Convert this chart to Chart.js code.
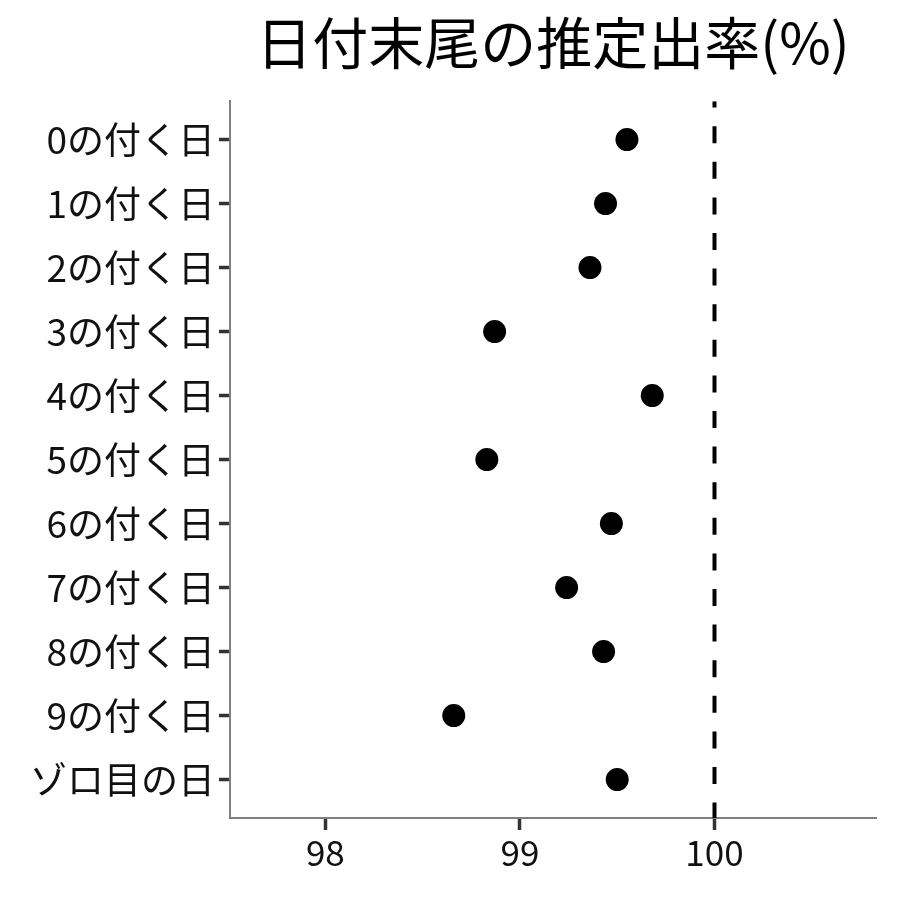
<!DOCTYPE html>
<html>
<head>
<meta charset="utf-8">
<script src="https://cdn.jsdelivr.net/npm/chart.js@4"></script>
<style>
  body { margin: 0; background: #fff; }
</style>
</head>
<body>
<canvas id="dotChart" width="900" height="900"></canvas>
<script>
var categories = ["0の付く日","1の付く日","2の付く日","3の付く日","4の付く日","5の付く日","6の付く日","7の付く日","8の付く日","9の付く日","ゾロ目の日"];
var rates = [99.55, 99.44, 99.36, 98.87, 99.68, 98.83, 99.47, 99.24, 99.43, 98.66, 99.50];
var xTicks = [98, 99, 100];
var refLine = 100;

var FONT = '"Noto Sans CJK JP", "Noto Sans", sans-serif';

var points = rates.map(function(v, i) { return { x: v, y: i }; });

var ctx = document.getElementById("dotChart").getContext("2d");
var chart = new Chart(ctx, {
  type: "scatter",
  data: {
    datasets: [
      {
        data: points,
        backgroundColor: "#000",
        borderWidth: 0,
        pointRadius: 11.5,
        pointHoverRadius: 11.5
      },
      {
        type: "line",
        data: [{ x: refLine, y: -0.6 }, { x: refLine, y: categories.length - 0.4 }],
        borderColor: "#000",
        borderWidth: 4,
        borderDash: [17, 18.6],
        borderDashOffset: 10.6,
        pointRadius: 0,
        fill: false
      }
    ]
  },
  options: {
    responsive: false,
    animation: false,
    devicePixelRatio: 1,
    layout: { padding: { left: 0, right: 24, top: 0, bottom: 0 } },
    plugins: {
      legend: { display: false },
      tooltip: { enabled: false },
      title: {
        display: true,
        text: "日付末尾の推定出率(%)",
        fullSize: false,
        color: "#000",
        font: { family: FONT, size: 56, weight: "normal" },
        padding: { top: 9, bottom: 25 }
      }
    },
    scales: {
      x: {
        type: "linear",
        min: 97.51,
        max: 100.83,
        afterBuildTicks: function(scale) {
          scale.ticks = xTicks.map(function(v) { return { value: v }; });
        },
        afterFit: function(scale) { scale.height = 82; },
        grid: { drawOnChartArea: false, tickLength: 12, tickColor: "#333", tickWidth: 3.5 },
        border: { color: "#808080", width: 2 },
        ticks: {
          color: "#111",
          padding: 2,
          font: { family: FONT, size: 35 },
          callback: function(v) { return v; }
        }
      },
      y: {
        type: "linear",
        reverse: true,
        min: -0.6,
        max: categories.length - 0.4,
        afterBuildTicks: function(scale) {
          scale.ticks = categories.map(function(c, i) { return { value: i }; });
        },
        afterFit: function(scale) { scale.width = 230; },
        grid: { drawOnChartArea: false, tickLength: 11, tickColor: "#333", tickWidth: 3.5 },
        border: { color: "#808080", width: 2 },
        ticks: {
          color: "#111",
          padding: 4,
          font: { family: FONT, size: 37 },
          callback: function(v) { return categories[v]; }
        }
      }
    }
  }
});
</script>
</body>
</html>
